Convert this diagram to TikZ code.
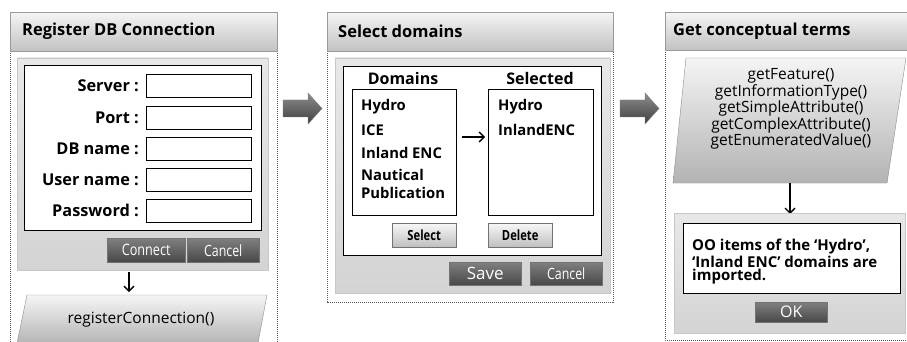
\documentclass[tikz,border=0pt]{standalone}
\usepackage{fontspec}
\setmainfont{Open Sans}
\usetikzlibrary{arrows.meta,shadows}
\newcommand{\fs}[1]{\fontsize{#1}{#1}\selectfont}
\begin{document}
\begin{tikzpicture}[x=1pt,y=-1pt,
  titlebar/.style={draw=black!40, top color=black!4, bottom color=black!24},
  titletext/.style={anchor=west, inner sep=0pt, font=\fs{16.5}\bfseries},
  dashline/.style={draw=black!65, line width=0.6pt, dash pattern=on 1.2pt off 0.8pt},
  graypanel/.style={draw=black!22, top color=black!9, bottom color=black!17, drop shadow={shadow xshift=1pt, shadow yshift=-1pt, opacity=0.25}},
  whitebox/.style={draw=black, fill=white, line width=0.7pt},
  field/.style={draw=black, fill=white, line width=0.6pt},
  lbl/.style={anchor=east, inner sep=0pt, font=\fs{16.3}\bfseries},
  item/.style={anchor=west, inner sep=0pt, font=\fs{14.8}\bfseries},
  darkbtn/.style={draw=black!55, top color=black!50, bottom color=black!72, text=white, inner sep=0pt, drop shadow={shadow xshift=1pt, shadow yshift=-1.2pt, opacity=0.3}},
  lightbtn/.style={draw=black!55, top color=black!3, bottom color=black!25, inner sep=0pt, drop shadow={shadow xshift=1pt, shadow yshift=-1.2pt, opacity=0.3}},
  para/.style={draw=black!45, top color=black!4, bottom color=black!30},
  blockarrow/.style={draw=black!50, top color=black!45, bottom color=black!75},
  flow/.style={-{Straight Barb[length=5pt,width=10pt,line width=1.3pt]}, line width=1.3pt}
]
\useasboundingbox (0,0) rectangle (907,342);

% ---------- Panel 1 ----------
\draw[dashline] (10,51) -- (10,345);
\draw[dashline] (277,51) -- (277,345);
\node[titlebar, minimum width=267pt, minimum height=39pt, anchor=north west, inner sep=0pt] (t1) at (10,12) {};
\node[titletext] at (22,31) {Register DB Connection};
\path[graypanel] (17,58) rectangle (268,270);
\path[whitebox] (24,65) rectangle (261,230);
\foreach \ya/\yb/\txt/\nm in {74/97/Server :/f1, 106/129/Port :/f2, 137/160/DB name :/f3, 168/191/User name :/f4, 199/222/Password :/f5}{
  \path[field] (146,\ya) rectangle (251,\yb);
  \node[lbl] (\nm) at (139,{(\ya+\yb)/2}) {\txt};
}
\node[darkbtn, minimum width=78pt, minimum height=24pt, anchor=north west] (connect) at (107,238) {\fs{15.8}\scalebox{0.8}[1]{Connect}};
\node[darkbtn, minimum width=72pt, minimum height=24pt, anchor=north west] (cancel1) at (187,238) {\fs{15.5}\scalebox{0.8}[1]{Cancel}};
\path[para] (27,295) -- (267,295) -- (257.6,345) -- (16.6,345) -- cycle;
\node[inner sep=0pt, font=\fs{15.5}] (reg) at (141,320) {registerConnection()};
\coordinate (a1s) at (129,272);
\coordinate (a1e) at (129,292);
\draw[flow] (a1s) -- (a1e);

% block arrows
\path[blockarrow] (283,100) -- (308,100) -- (308,93) -- (322,108.5) -- (308,124) -- (308,117) -- (283,117) -- cycle;
\path[blockarrow] (620,100) -- (645,100) -- (645,93) -- (659,108.5) -- (645,124) -- (645,117) -- (620,117) -- cycle;

% ---------- Panel 2 ----------
\draw[dashline] (327,51) rectangle (613,302);
\node[titlebar, minimum width=286pt, minimum height=39pt, anchor=north west, inner sep=0pt] (t2) at (327,12) {};
\node[titletext] at (338,31) {Select domains};
\path[graypanel] (335,58) rectangle (610,293);
\path[whitebox] (343,66) rectangle (601,255);
\node[inner sep=0pt, font=\fs{16}\bfseries] (domh) at (403,79) {Domains};
\node[inner sep=0pt, font=\fs{16}\bfseries] (selh) at (540,79) {Selected};
\node[field, minimum width=104pt, minimum height=126pt, anchor=north west, inner sep=0pt] (dombox) at (352,89) {};
\node[field, minimum width=105pt, minimum height=126pt, anchor=north west, inner sep=0pt] (selbox) at (488,89) {};
\node[item] at (361,107) {Hydro};
\node[item] at (361,130) {ICE};
\node[item] at (361,153) {Inland ENC};
\node[item] at (361,175) {Nautical};
\node[item] at (361,193) {Publication};
\node[item] at (498,107) {Hydro};
\node[item] at (498,130) {InlandENC};
\coordinate (m1) at (462,137);
\coordinate (m2) at (485,137);
\draw[flow] (m1) -- (m2);
\node[lightbtn, minimum width=64pt, minimum height=24pt, anchor=north west] (selbtn) at (392,223) {\fs{14}\bfseries\scalebox{0.8}[1]{Select}};
\node[lightbtn, minimum width=64pt, minimum height=24pt, anchor=north west] (delbtn) at (488,223) {\fs{14}\bfseries\scalebox{0.8}[1]{Delete}};
\node[darkbtn, minimum width=72pt, minimum height=23pt, anchor=north west] (save) at (449,262) {\fs{17}Save};
\node[darkbtn, minimum width=72pt, minimum height=23pt, anchor=north west] (cancel2) at (530,262) {\fs{15.5}\scalebox{0.8}[1]{Cancel}};

% ---------- Panel 3 ----------
\draw[dashline] (665,50) -- (665,340) -- (910,340);
\node[titlebar, minimum width=245pt, minimum height=38pt, anchor=north west, inner sep=0pt] (t3) at (665,12) {};
\node[titletext] at (673,31) {Get conceptual terms};
\path[para] (686,58) -- (906,58) -- (887,183) -- (673,183) -- cycle;
\node[inner sep=0pt, align=center, font=\fontsize{15.5}{13}\selectfont] (gets) at (791,109) {getFeature()\\getInformationType()\\getSimpleAttribute()\\getComplexAttribute()\\getEnumeratedValue()};
\coordinate (a3s) at (790,183);
\coordinate (a3e) at (790,214);
\draw[flow] (a3s) -- (a3e);
\path[graypanel] (674,213) rectangle (905,333);
\path[whitebox] (683,223) rectangle (900,293);
\node[item, font=\fs{15}\bfseries] (oo1) at (692,247) {OO items of the ‘Hydro’,};
\node[item, font=\fs{15}\bfseries] (oo2) at (692,262) {‘Inland ENC’ domains are};
\node[item, font=\fs{15}\bfseries] (oo3) at (692,277) {imported.};
\node[darkbtn, minimum width=72pt, minimum height=20pt, anchor=north west] (ok) at (755,302) {\fs{16}OK};
\end{tikzpicture}
\end{document}
